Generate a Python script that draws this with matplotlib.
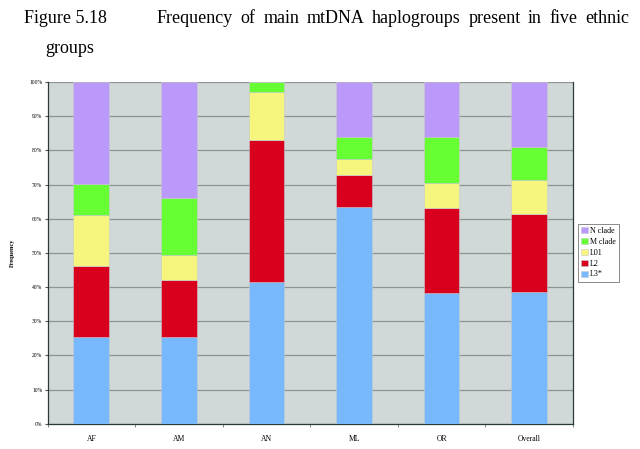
import numpy as np
import matplotlib
matplotlib.use('Agg')
import matplotlib.pyplot as plt

# data (percent, stacked bottom to top)
groups = ['AF', 'AM', 'AN', 'ML', 'OR', 'Overall']
L3 = [25.4, 25.4, 41.6, 63.5, 38.2, 38.5]
L2 = [20.8, 16.8, 41.6, 9.4, 25.0, 23.0]
L01 = [14.8, 7.1, 14.0, 4.7, 7.3, 9.8]
M_clade = [9.1, 16.9, 2.8, 6.4, 13.3, 9.7]
N_clade = [29.9, 33.8, 0.0, 16.0, 16.2, 19.0]

series = [('L3*', L3, '#78B8FC'),
          ('L2', L2, '#D8001C'),
          ('L01', L01, '#F6F67E'),
          ('M clade', M_clade, '#66FF33'),
          ('N clade', N_clade, '#BB99FA')]

title_words = 'Frequency of main mtDNA haplogroups present in five ethnic'.split()

plt.rcParams['font.family'] = ['Liberation Serif', 'DejaVu Serif']

fig = plt.figure(figsize=(6.4, 4.49), dpi=100)
ax = fig.add_axes([0.0745, 0.0563, 0.8205, 0.7607])
ax.set_facecolor('#D1D9D8')

x = np.arange(len(groups))
bottom = np.zeros(len(groups))
handles = []
for name, vals, col in series:
    b = ax.bar(x, vals, width=0.41, bottom=bottom, color=col,
               edgecolor='#C8C8D0', linewidth=0.4, label=name, zorder=3)
    handles.append(b)
    bottom += np.array(vals)

ax.set_xlim(-0.5, len(groups) - 0.5)
ax.set_ylim(0, 100)
ax.set_yticks(np.arange(0, 101, 10))
ax.set_yticklabels(['%d%%' % v for v in range(0, 101, 10)], fontsize=4)
ax.yaxis.grid(True, color='#8C9494', linewidth=0.9, zorder=0)
ax.set_axisbelow(True)

ax.set_xticks(x)
ax.set_xticklabels(groups, fontsize=5.5)
ax.tick_params(axis='x', length=0, pad=8)
ax.set_xticks(np.arange(-0.5, len(groups)), minor=True)
ax.tick_params(axis='x', which='minor', length=2, color='#777777')
ax.tick_params(axis='y', length=2, pad=2, color='#555555')

ax.spines['top'].set_visible(False)
for s in ['left', 'bottom', 'right']:
    ax.spines[s].set_color('#2a3a3a')
    ax.spines[s].set_linewidth(0.9)

ax.set_ylabel('Frequency', fontsize=4.5, fontweight='bold', labelpad=10)

leg = ax.legend(handles[::-1], [s[0] for s in series][::-1],
                loc='upper left', bbox_to_anchor=(1.01, 0.585),
                fontsize=5.8, frameon=True, fancybox=False,
                handlelength=0.8, handleheight=0.8, handletextpad=0.3,
                borderpad=0.4, labelspacing=0.35, borderaxespad=0)
leg.get_frame().set_edgecolor('#555555')
leg.get_frame().set_linewidth(0.6)

# heading, justified like the source document
W, H = 640.0, 449.0
tsize = 13
fig.text(24 / W, 1 - 23 / H, 'Figure 5.18', fontsize=tsize, va='baseline', ha='left')
fig.text(45 / W, 1 - 53 / H, 'groups', fontsize=tsize, va='baseline', ha='left')

renderer = fig.canvas.get_renderer()
texts = [fig.text(0, 1 - 23 / H, w, fontsize=tsize, va='baseline', ha='left')
         for w in title_words]
widths = [t.get_window_extent(renderer).width for t in texts]
x0, x1 = 157.0, 629.0
gap = (x1 - x0 - sum(widths)) / (len(texts) - 1)
pos = x0
for t, w in zip(texts, widths):
    t.set_x(pos / W)
    pos += w + gap

fig.savefig('out.png', dpi=100)
